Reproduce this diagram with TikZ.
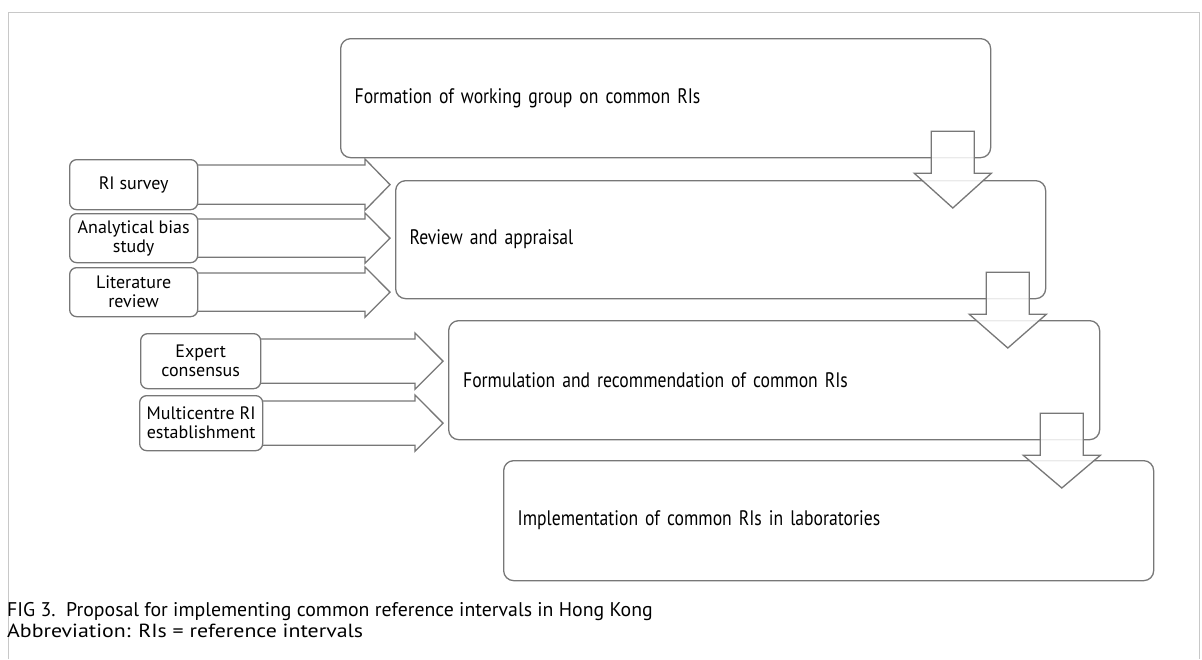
\documentclass[tikz,border=0pt]{standalone}
\usepackage{fontspec}
\setmainfont{PT Sans}
\newfontfamily\mainfam[FakeStretch=0.84]{PT Sans}
\newfontfamily\abbrfam[FakeStretch=1.15]{PT Sans}
\usetikzlibrary{calc}
\definecolor{edge}{HTML}{777777}
\definecolor{framec}{HTML}{C8C8C8}
\pgfdeclarelayer{bg}
\pgfsetlayers{bg,main}
\tikzset{
 mainbox/.style={draw=edge, line width=1.3pt, rounded corners=10pt, fill=white,
   minimum width=650pt, minimum height=119pt, inner xsep=14pt, text width=622pt,
   align=left, anchor=north west, font=\mainfam\fontsize{21}{25}\selectfont},
 smallbox/.style={draw=edge, line width=1.3pt, rounded corners=7pt, fill=white,
   inner sep=0pt, align=center, anchor=north west, font=\fontsize{18}{19}\selectfont},
 blk/.style={draw=edge, line width=1.3pt, fill=white, line join=miter},
 downblk/.style={draw=edge, line width=1.3pt, fill=white, fill opacity=0.85, line join=miter},
 framestyle/.style={draw=framec, line width=1pt},
 captext/.style={anchor=base west, inner sep=0pt, font=\fontsize{19.8}{22}\selectfont},
 abbrtext/.style={anchor=base west, inner sep=0pt, font=\abbrfam\fontsize{19}{22}\selectfont},
}
\newcommand\sidearrow[3]{%
 \draw[blk] let \p1=(#1.north east), \p2=(#1.south east), \p3=(#2.west), \p4=(#1.center) in
  (\x4,\y1-6pt) -- (\x3-5pt-#3,\y1-6pt) -- (\x3-5pt-#3,\y1) -- (\x3-5pt,{0.5*(\y1+\y2)})
  -- (\x3-5pt-#3,\y2) -- (\x3-5pt-#3,\y2+6pt) -- (\x4,\y2+6pt);}
\newcommand\downblock[2]{%
 \draw[downblk] let \p1=(#1.south east), \p2=(#2.north) in
  (\x1-60pt,\y1+27pt) -- (\x1-17pt,\y1+27pt) -- (\x1-17pt,\y1-15pt) -- (\x1,\y1-15pt)
  -- (\x1-38.5pt,\y2-28pt) -- (\x1-77pt,\y1-15pt) -- (\x1-60pt,\y1-15pt) -- cycle;}
\begin{document}
\begin{tikzpicture}[x=1pt,y=-1pt]
\useasboundingbox (0,0) rectangle (1202,659);
\draw[framestyle] (8,659) -- (8,12) -- (1199,12) -- (1199,659);

\node[mainbox] (m1) at (340,38) {Formation of working group on common RIs};
\node[mainbox, minimum height=118pt] (m2) at (395,180) {Review and appraisal};
\node[mainbox, minimum width=651pt] (m3) at (448,320) {Formulation and recommendation of common RIs};
\node[mainbox, minimum height=120pt] (m4) at (503,460) {Implementation of common RIs in laboratories};

\node[smallbox, minimum width=128pt, minimum height=50pt] (s1) at (69,159) {RI survey};
\node[smallbox, minimum width=128pt, minimum height=49pt] (s2) at (69,213) {Analytical bias\\study};
\node[smallbox, minimum width=128pt, minimum height=49pt] (s3) at (69,267) {Literature\\review};
\node[smallbox, minimum width=120pt, minimum height=55pt] (s4) at (140,333) {Expert\\consensus};
\node[smallbox, minimum width=123pt, minimum height=55pt] (s5) at (139,395) {Multicentre RI\\establishment};

\begin{pgfonlayer}{bg}
\sidearrow{s1}{m2}{25pt}
\sidearrow{s2}{m2}{25pt}
\sidearrow{s3}{m2}{25pt}
\sidearrow{s4}{m3}{28pt}
\sidearrow{s5}{m3}{28pt}
\end{pgfonlayer}

\downblock{m1}{m2}
\downblock{m2}{m3}
\downblock{m3}{m4}

\node[captext] (cap) at (7,616) {FIG 3.\ \ Proposal for implementing common reference intervals in Hong Kong};
\node[abbrtext] (abbr) at (7,637) {Abbreviation: RIs = reference intervals};
\end{tikzpicture}
\end{document}
